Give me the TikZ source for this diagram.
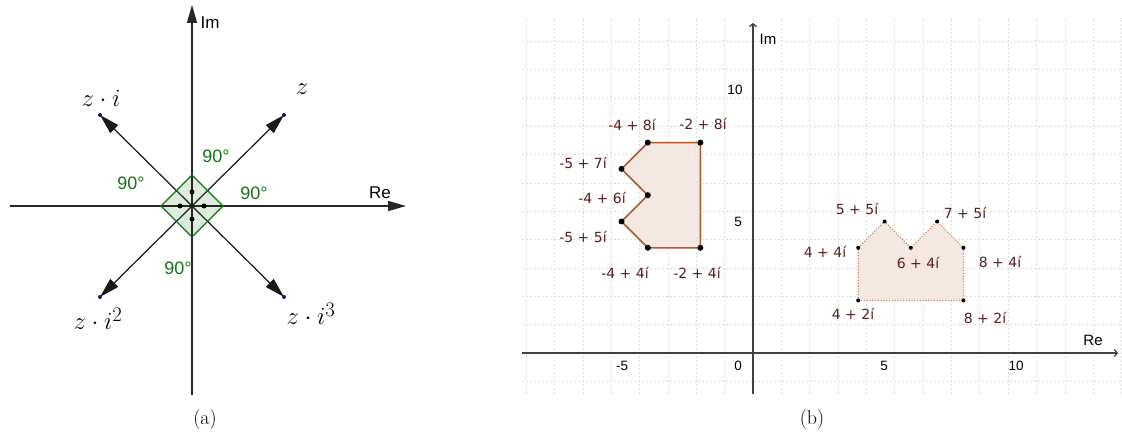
\documentclass[tikz,border=0pt]{standalone}
\usepackage{fontspec}
\usetikzlibrary{arrows.meta}
\newfontfamily\lbfont{DejaVu Sans}
\newfontfamily\axfont{Liberation Sans}
\definecolor{angg}{RGB}{20,115,20}
\definecolor{dfill}{RGB}{222,236,222}
\definecolor{pbrown}{RGB}{178,88,38}
\definecolor{pbrownl}{RGB}{212,140,100}
\definecolor{pfill}{RGB}{243,232,226}
\definecolor{plabel}{RGB}{92,30,30}
\definecolor{ptblue}{RGB}{20,20,120}
\tikzset{
  axa/.style={line width=1.2bp, black!85, -{Triangle[length=18bp,width=10bp]}},
  vec/.style={line width=1.2bp, black!90, -{Triangle[length=20bp,width=11bp]}},
  axb/.style={line width=1.2bp, black!75, -{Straight Barb[length=3bp,width=7bp]}},
  gridl/.style={line width=0.6bp, black!13, dash pattern=on 2bp off 2bp},
  anglab/.style={font=\axfont\fontsize{18bp}{20bp}\selectfont, text=angg, inner sep=0},
  axlab/.style={font=\axfont\fontsize{17bp}{19bp}\selectfont, inner sep=0},
  mlab/.style={font=\fontsize{32bp}{36bp}\selectfont, inner sep=0},
  captext/.style={font=\fontsize{20bp}{22bp}\selectfont, inner sep=0},
  plab/.style={font=\lbfont\fontsize{14bp}{16bp}\selectfont, text=plabel, inner sep=0},
  tlab/.style={font=\axfont\fontsize{13.5bp}{15bp}\selectfont, inner sep=0},
  blab/.style={font=\axfont\fontsize{15bp}{17bp}\selectfont, inner sep=0},
  poly1/.style={draw=pbrown, line width=1.6bp, fill=pfill, line join=round},
  poly2/.style={draw=pbrownl, line width=1.2bp, fill=pfill, dash pattern=on 1.2bp off 1.6bp},
}
\begin{document}
\begin{tikzpicture}[x=1bp,y=-1bp]
\useasboundingbox (0,0) rectangle (1122,437);
\fill[white] (0,0) rectangle (1122,437);
%% ---------------- panel (a) ----------------
\coordinate (O) at (192,206);
\coordinate (dT) at (192,175);
\coordinate (dR) at (223,206);
\coordinate (dB) at (192,237);
\coordinate (dL) at (161,206);
\fill[dfill] (dT) -- (dR) -- (dB) -- (dL) -- cycle;
\coordinate (ReL) at (10,206);
\coordinate (ReR) at (406,206);
\coordinate (ImB) at (192,395);
\coordinate (ImT) at (192,5);
\draw[axa] (ReL) -- (ReR);
\draw[axa] (ImB) -- (ImT);
\coordinate (z) at (284,115);
\coordinate (zi) at (100,115);
\coordinate (zi2) at (100,297);
\coordinate (zi3) at (284,297);
\draw[vec] (O) -- (z);
\draw[vec] (O) -- (zi);
\draw[vec] (O) -- (zi2);
\draw[vec] (O) -- (zi3);
\draw[angg, line width=1.1bp] (dT) -- (dR) -- (dB) -- (dL) -- cycle;
\foreach \p in {(192,192),(180,206),(204,206),(192,219)} \fill[black] \p circle (2.5bp);
\foreach \p in {z,zi,zi2,zi3} \fill[ptblue] (\p) circle (2bp);
\node[anglab] (a1) at (216,156) {90°};
\node[anglab] (a2) at (131,183) {90°};
\node[anglab] (a3) at (254,193) {90°};
\node[anglab] (a4) at (178,268) {90°};
\node[axlab] (lre) at (380,193) {Re};
\node[axlab] (lim) at (210,23) {Im};
\node[mlab, anchor=base] (lz) at (302,95) {$z$};
\node[mlab, anchor=base] (lzi) at (101,107) {$z\cdot i$};
\node[mlab, anchor=base] (lzi2) at (98,330) {$z\cdot i^2$};
\node[mlab, anchor=base] (lzi3) at (311,325) {$z\cdot i^3$};
\node[captext] (capa) at (205,420) {(a)};
%% ---------------- panel (b) ----------------
\begin{scope}[xshift=753bp, yshift=-353bp, x=26.3bp, y=26.3bp]
  \draw[gridl] (-8.8,-1.55) grid (14.1,12.75);
  \coordinate (bReL) at (-8.8,0);
  \coordinate (bReR) at (13.88,0);
  \coordinate (bImB) at (0,-1.57);
  \coordinate (bImT) at (0,12.55);
  \draw[axb] (bReL) -- (bReR);
  \draw[axb] (bImB) -- (bImT);
  \coordinate (p1) at (-4,8);
  \coordinate (p2) at (-2,8);
  \coordinate (p3) at (-2,4);
  \coordinate (p4) at (-4,4);
  \coordinate (p5) at (-5,5);
  \coordinate (p6) at (-4,6);
  \coordinate (p7) at (-5,7);
  \draw[poly1] (p1) -- (p2) -- (p3) -- (p4) -- (p5) -- (p6) -- (p7) -- cycle;
  \foreach \p in {p1,p2,p3,p4,p5,p6,p7} \fill[black] (\p) circle (3bp);
  \coordinate (q1) at (4,2);
  \coordinate (q2) at (8,2);
  \coordinate (q3) at (8,4);
  \coordinate (q4) at (7,5);
  \coordinate (q5) at (6,4);
  \coordinate (q6) at (5,5);
  \coordinate (q7) at (4,4);
  \draw[poly2] (q1) -- (q2) -- (q3) -- (q4) -- (q5) -- (q6) -- (q7) -- cycle;
  \foreach \p in {q1,q2,q3,q4,q5,q6,q7} \fill[black] (\p) circle (2bp);
\end{scope}
\node[plab] (l1) at (632,125) {-4 + 8í};
\node[plab] (l2) at (703,124) {-2 + 8í};
\node[plab] (l7) at (583,163) {-5 + 7í};
\node[plab] (l6) at (602,198) {-4 + 6í};
\node[plab] (l5) at (583,237) {-5 + 5í};
\node[plab] (l4) at (625,273) {-4 + 4í};
\node[plab] (l3) at (697,273) {-2 + 4í};
\node[plab] (m6) at (857,209) {5 + 5í};
\node[plab] (m4) at (965,213) {7 + 5í};
\node[plab] (m7) at (825,252) {4 + 4í};
\node[plab] (m5) at (918,263) {6 + 4í};
\node[plab] (m3) at (1000,262) {8 + 4í};
\node[plab] (m1) at (853,314) {4 + 2í};
\node[plab] (m2) at (985,318) {8 + 2í};
\node[tlab] (t10y) at (735,90) {10};
\node[tlab] (t5y) at (738,222) {5};
\node[tlab] (t0) at (738,366) {0};
\node[tlab] (tm5) at (622,366) {-5};
\node[tlab] (t5x) at (884,366) {5};
\node[tlab] (t10x) at (1016,366) {10};
\node[blab] (bim) at (768,39) {Im};
\node[blab] (bre) at (1093,340) {Re};
\node[captext] (capb) at (812,420) {(b)};
\end{tikzpicture}
\end{document}
